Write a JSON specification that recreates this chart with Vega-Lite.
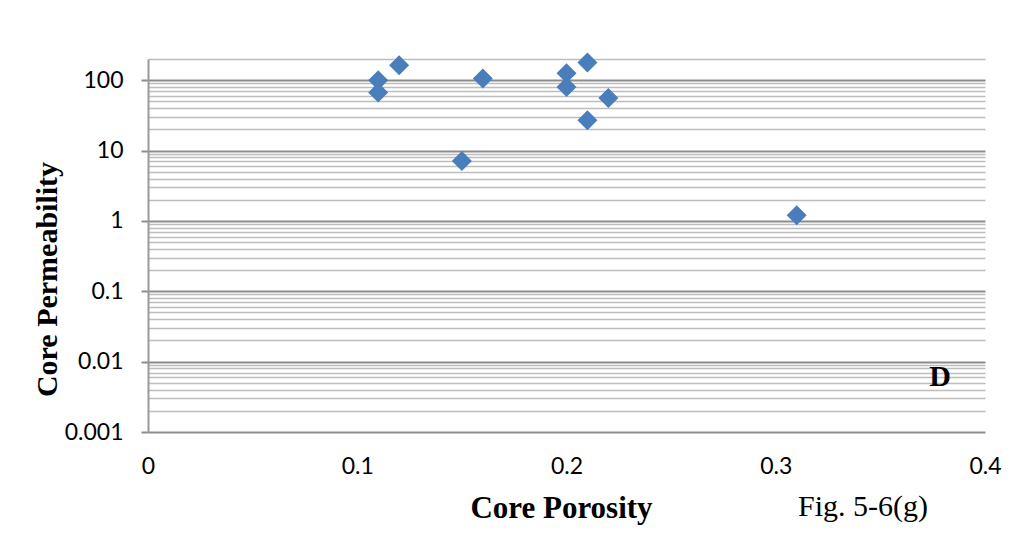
{
  "$schema": "https://vega.github.io/schema/vega-lite/v6.json",
  "autosize": "none",
  "width": 837,
  "height": 373,
  "padding": {"left": 148, "top": 59, "right": 36, "bottom": 108},
  "background": "white",
  "title": {
    "text": "Fig. 5-6(g)",
    "orient": "bottom",
    "anchor": "end",
    "frame": "group",
    "baseline": "alphabetic",
    "offset": -7,
    "dx": -57,
    "font": "Liberation Serif",
    "fontSize": 30,
    "fontWeight": "normal",
    "color": "black"
  },
  "config": {"view": {"stroke": null}},
  "datasets": {
    "points": [
      {"porosity": 0.11, "permeability": 100},
      {"porosity": 0.11, "permeability": 67},
      {"porosity": 0.12, "permeability": 163},
      {"porosity": 0.15, "permeability": 7.1},
      {"porosity": 0.16, "permeability": 106},
      {"porosity": 0.2, "permeability": 125},
      {"porosity": 0.2, "permeability": 80},
      {"porosity": 0.21, "permeability": 179},
      {"porosity": 0.21, "permeability": 27},
      {"porosity": 0.22, "permeability": 56},
      {"porosity": 0.31, "permeability": 1.2}
    ],
    "labels": [
      {"porosity": 0.3785, "permeability": 0.00605, "label": "D"}
    ]
  },
  "layer": [
    {
      "data": {"name": "points"},
      "mark": {"type": "point", "shape": "diamond", "filled": true, "size": 400, "color": "#4A7EBB", "opacity": 1},
      "encoding": {
        "x": {
          "field": "porosity",
          "type": "quantitative",
          "scale": {"domain": [0, 0.4], "nice": false, "zero": false},
          "axis": {
            "values": [0, 0.1, 0.2, 0.3, 0.4],
            "format": "~g",
            "grid": false,
            "domain": false,
            "ticks": false,
            "labelFont": "Lato",
            "labelFontSize": 23,
            "labelColor": "black",
            "labelPadding": 23,
            "labelFlush": false,
            "title": "Core  Porosity",
            "titleFont": "Liberation Serif",
            "titleFontSize": 31,
            "titleFontWeight": "bold",
            "titleColor": "black",
            "titleX": 413,
            "titleY": 85,
            "titleAlign": "center",
            "titleBaseline": "alphabetic"
          }
        },
        "y": {
          "field": "permeability",
          "type": "quantitative",
          "scale": {"type": "log", "domain": [0.001, 200], "nice": false},
          "axis": {
            "values": [0.001, 0.002, 0.003, 0.004, 0.005, 0.006, 0.007, 0.008, 0.009,
                       0.01, 0.02, 0.03, 0.04, 0.05, 0.06, 0.07, 0.08, 0.09,
                       0.1, 0.2, 0.3, 0.4, 0.5, 0.6, 0.7, 0.8, 0.9,
                       1, 2, 3, 4, 5, 6, 7, 8, 9,
                       10, 20, 30, 40, 50, 60, 70, 80, 90,
                       100, 200],
            "labelExpr": "indexof([0.001, 0.01, 0.1, 1, 10, 100], datum.value) >= 0 ? format(datum.value, '~g') : ''",
            "grid": true,
            "gridColor": {"condition": {"test": "indexof([0.001, 0.01, 0.1, 1, 10, 100], datum.value) >= 0", "value": "#8C8C8C"}, "value": "#BDBDBD"},
            "gridWidth": {"condition": {"test": "indexof([0.001, 0.01, 0.1, 1, 10, 100], datum.value) >= 0", "value": 2}, "value": 1.6},
            "domain": true,
            "domainColor": "#9A9A9A",
            "domainWidth": 2,
            "ticks": true,
            "tickSize": 7,
            "tickWidth": 2,
            "tickColor": "#8C8C8C",
            "tickOpacity": {"condition": {"test": "indexof([0.001, 0.01, 0.1, 1, 10, 100], datum.value) >= 0", "value": 1}, "value": 0},
            "labelFont": "Lato",
            "labelFontSize": 23,
            "labelColor": "black",
            "labelPadding": 18,
            "labelOverlap": false,
            "labelFlush": false,
            "title": "Core Permeability",
            "titleFont": "Liberation Serif",
            "titleFontSize": 30,
            "titleFontWeight": "bold",
            "titleColor": "black",
            "titleAngle": -90,
            "titleX": -92,
            "titleY": 220,
            "titleAlign": "center",
            "titleBaseline": "alphabetic"
          }
        }
      }
    },
    {
      "data": {"name": "labels"},
      "mark": {"type": "text", "font": "Liberation Serif", "fontSize": 30, "fontWeight": "bold", "color": "black", "align": "center", "baseline": "middle"},
      "encoding": {
        "x": {"field": "porosity", "type": "quantitative"},
        "y": {"field": "permeability", "type": "quantitative"},
        "text": {"field": "label"}
      }
    }
  ]
}
